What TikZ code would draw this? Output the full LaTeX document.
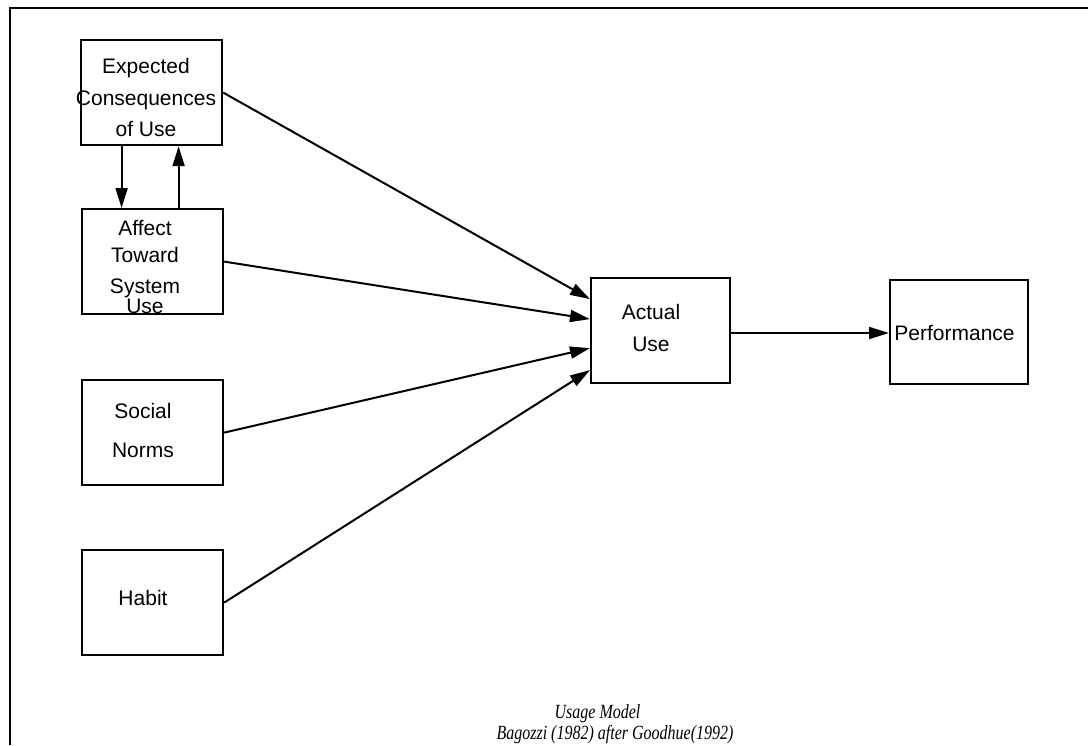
\documentclass[tikz,border=0pt]{standalone}
\usepackage{fontspec}
\setmainfont{Liberation Sans}
\newfontfamily\captionserif{Liberation Serif}
\usetikzlibrary{arrows.meta}

\begin{document}
\begin{tikzpicture}[x=1pt, y=-1pt,
  line width=2pt,
  >={Triangle[length=20pt,width=12pt]},
  box/.style={draw, line width=2.2pt, inner sep=0pt, anchor=north west},
  lbl/.style={align=center, inner sep=0pt,
    font=\fontsize{21}{31.5}\selectfont},
  capt/.style={inner sep=0pt, anchor=base,
    font=\captionserif\itshape\fontsize{16.5}{20}\selectfont}]

\useasboundingbox (0,0) rectangle (1088,745);

% page frame (top and left rule only)
\draw[line width=2.2pt] (10,745) -- (10,8) -- (1088,8);

% construct boxes
\node[box, minimum width=141pt, minimum height=105pt] (exp)  at (80,39)  {};
\node[box, minimum width=141pt, minimum height=105pt] (aff)  at (81,208) {};
\node[box, minimum width=141pt, minimum height=105pt] (soc)  at (81,379) {};
\node[box, minimum width=141pt, minimum height=105pt] (hab)  at (81,549) {};
\node[box, minimum width=139pt, minimum height=105pt] (act)  at (590,277) {};
\node[box, minimum width=138pt, minimum height=104pt] (perf) at (889,279) {};

% box texts
\node[lbl] (expT) at (146,97.5) {Expected\\Consequences\\of Use};
\node[lbl, font=\fontsize{21}{27}\selectfont] (affT) at (145,266.5)
  {Affect\\[0pt]Toward\\[4pt]System\\[-7pt]Use};
\node[lbl] (socT) at (143,430) {Social\\[7.5pt]Norms};
\node[lbl] (habT) at (143,597.5) {Habit};
\node[lbl] (actT) at (651,327.5) {Actual\\[0.5pt]Use};
\node[lbl] (perfT) at (954.5,332.5) {Performance};

% reciprocal links between the two upper constructs
\draw[->] ([xshift=-30pt]exp.south) -- ([xshift=-30pt]exp.south |- aff.north);
\draw[->] ([xshift=27pt]exp.south |- aff.north) -- ([xshift=27pt]exp.south);

% determinants of actual use
\draw[->] (exp.east) -- ([yshift=31.5pt]act.west);
\draw[->] (aff.east) -- ([yshift=11.5pt]act.west);
\draw[->] (soc.east) -- ([yshift=-17.5pt]act.west);
\draw[->] (hab.east) -- ([yshift=-39.5pt]act.west);

% use leads to performance
\draw[->] (act.east |- 0,333) -- (perf.west |- 0,333);

% caption
\node[capt] (cap1) at (597.5,718) {\scalebox{0.97}[1.22]{Usage Model}};
\node[capt] (cap2) at (615,739) {\scalebox{0.97}[1.22]{Bagozzi (1982) after Goodhue(1992)}};

\end{tikzpicture}
\end{document}
